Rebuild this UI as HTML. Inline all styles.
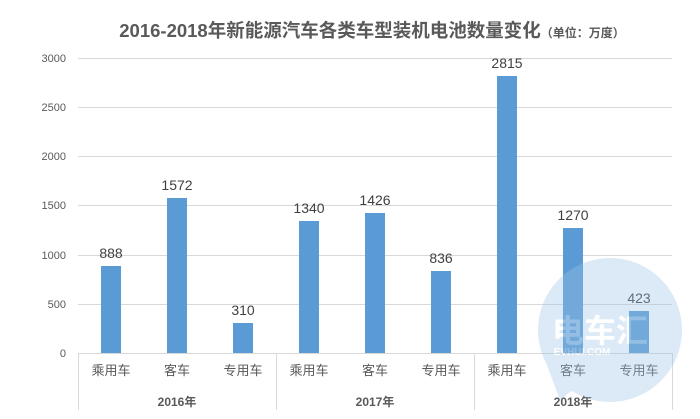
<!DOCTYPE html><html><head><meta charset="utf-8"><style>body{margin:0;background:#fff}svg{display:block}text{font-family:"Liberation Sans","Noto Sans CJK SC",sans-serif}</style></head><body>
<svg width="700" height="419" viewBox="0 0 700 419">
<text x="372" y="37" text-anchor="middle" font-size="18.5" font-weight="bold" fill="#595959">2016-2018年新能源汽车各类车型装机电池数量变化<tspan font-size="12">（单位：万度）</tspan></text>
<g stroke="#d9d9d9" stroke-width="1">
<line x1="78" x2="672" y1="58.5" y2="58.5"/><line x1="78" x2="672" y1="107.5" y2="107.5"/><line x1="78" x2="672" y1="156.5" y2="156.5"/><line x1="78" x2="672" y1="205.5" y2="205.5"/><line x1="78" x2="672" y1="255.5" y2="255.5"/><line x1="78" x2="672" y1="304.5" y2="304.5"/>
<line x1="78" x2="672" y1="353.5" y2="353.5"/>
<line x1="78.5" x2="78.5" y1="353" y2="410"/><line x1="276.5" x2="276.5" y1="353" y2="410"/><line x1="474.5" x2="474.5" y1="353" y2="410"/><line x1="672.5" x2="672.5" y1="353" y2="410"/>
</g>
<g font-size="11" fill="#595959" text-anchor="end">
<text x="66" y="62">3000</text><text x="66" y="111">2500</text><text x="66" y="160">2000</text><text x="66" y="209">1500</text><text x="66" y="259">1000</text><text x="66" y="308">500</text><text x="66" y="357">0</text></g>
<g fill="#5b9bd5">
<rect x="101" y="266" width="20" height="87"/><rect x="167" y="198" width="20" height="155"/><rect x="233" y="323" width="20" height="30"/>
<rect x="299" y="221" width="20" height="132"/><rect x="365" y="213" width="20" height="140"/><rect x="431" y="271" width="20" height="82"/>
<rect x="497" y="76" width="20" height="277"/><rect x="563" y="228" width="20" height="125"/><rect x="629" y="311" width="20" height="42"/></g>
<g font-size="14" fill="#404040" text-anchor="middle">
<text x="111" y="258">888</text><text x="177" y="190">1572</text><text x="243" y="315">310</text>
<text x="309" y="213">1340</text><text x="375" y="205">1426</text><text x="441" y="263">836</text>
<text x="507" y="68">2815</text><text x="573" y="220">1270</text><text x="639" y="303">423</text></g>
<g font-size="13" fill="#595959" text-anchor="middle">
<text x="111" y="375">乘用车</text><text x="177" y="375">客车</text><text x="243" y="375">专用车</text>
<text x="309" y="375">乘用车</text><text x="375" y="375">客车</text><text x="441" y="375">专用车</text>
<text x="507" y="375">乘用车</text><text x="573" y="375">客车</text><text x="639" y="375">专用车</text></g>
<g font-size="12" font-weight="bold" fill="#595959" text-anchor="middle">
<text x="177" y="406">2016年</text><text x="375" y="406">2017年</text><text x="573" y="406">2018年</text></g>
<g opacity="0.35"><circle cx="610" cy="330" r="72" fill="#9cc3e6"/><polygon points="545,360 560,400 585,380" fill="#9cc3e6"/>
<text x="600" y="342" font-size="32" font-weight="bold" fill="#fff" text-anchor="middle">电车汇</text>
<text x="582" y="355" font-size="10" font-weight="bold" fill="#fff" text-anchor="middle">EVHUI.COM</text></g>
</svg></body></html>
